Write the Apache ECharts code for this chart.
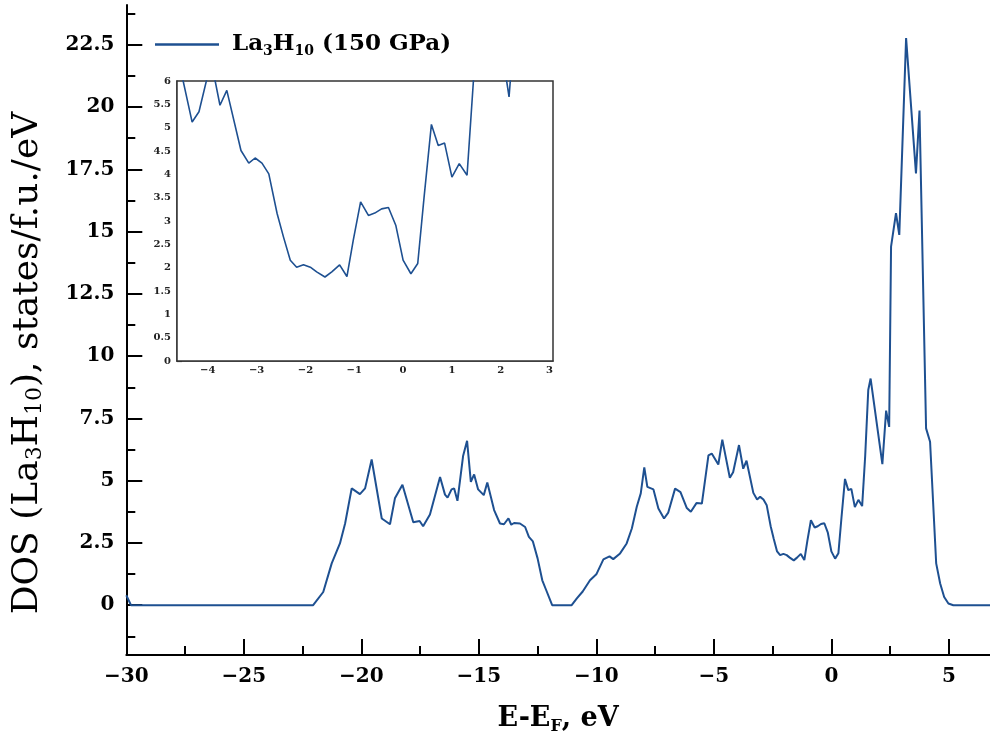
<!DOCTYPE html>
<html><head><meta charset="utf-8">
<script src="https://cdn.jsdelivr.net/npm/echarts@6/dist/echarts.min.js"></script>
<style>html,body{margin:0;padding:0;background:#fff}#c{width:990px;height:755px}</style>
</head><body><div id="c"></div>
<script>
// Energy E-E_F (eV)
const energy = [-30, -29.8, -22.05, -21.62, -21.26, -20.91, -20.69, -20.41, -20.06, -19.84, -19.56, -19.13, -18.78, -18.57, -18.25, -17.79, -17.52, -17.37, -17.08, -16.65, -16.44, -16.33, -16.16, -16.05, -15.91, -15.67, -15.50, -15.34, -15.20, -15.03, -14.79, -14.64, -14.35, -14.10, -13.93, -13.74, -13.62, -13.50, -13.25, -13.03, -12.87, -12.70, -12.50, -12.30, -12.14, -11.88, -11.05, -10.83, -10.58, -10.27, -10.0, -9.70, -9.44, -9.28, -8.99, -8.71, -8.49, -8.28, -8.11, -7.96, -7.83, -7.57, -7.36, -7.12, -6.94, -6.65, -6.42, -6.15, -5.98, -5.74, -5.51, -5.23, -5.09, -4.81, -4.64, -4.32, -4.18, -3.93, -3.75, -3.61, -3.32, -3.16, -3.03, -2.89, -2.75, -2.58, -2.45, -2.31, -2.18, -2.04, -1.90, -1.77, -1.60, -1.46, -1.30, -1.15, -1.02, -0.87, -0.71, -0.58, -0.44, -0.30, -0.15, 0.0, 0.16, 0.30, 0.43, 0.58, 0.72, 0.85, 1.0, 1.15, 1.31, 1.44, 1.57, 1.67, 2.17, 2.33, 2.46, 2.54, 2.75, 2.89, 3.18, 3.60, 3.75, 4.03, 4.20, 4.46, 4.63, 4.80, 4.98, 5.19, 6.75];
// DOS (states/f.u./eV)
const dos = [0.4, 0.0, 0.0, 0.53, 1.68, 2.48, 3.28, 4.69, 4.46, 4.69, 5.85, 3.48, 3.25, 4.29, 4.84, 3.33, 3.38, 3.17, 3.64, 5.15, 4.44, 4.32, 4.65, 4.69, 4.19, 5.99, 6.6, 4.95, 5.25, 4.65, 4.42, 4.93, 3.82, 3.28, 3.25, 3.49, 3.23, 3.3, 3.28, 3.14, 2.74, 2.56, 1.88, 1.0, 0.62, 0.0, 0.0, 0.27, 0.55, 1.0, 1.24, 1.84, 1.96, 1.85, 2.08, 2.48, 3.08, 3.95, 4.49, 5.53, 4.75, 4.65, 3.88, 3.48, 3.72, 4.68, 4.54, 3.9, 3.75, 4.1, 4.08, 6.02, 6.09, 5.65, 6.65, 5.12, 5.34, 6.43, 5.48, 5.8, 4.51, 4.24, 4.35, 4.24, 4.01, 3.16, 2.66, 2.16, 2.01, 2.06, 2.01, 1.91, 1.8, 1.91, 2.06, 1.81, 2.59, 3.41, 3.12, 3.17, 3.26, 3.29, 2.91, 2.16, 1.87, 2.09, 3.51, 5.07, 4.62, 4.67, 3.94, 4.23, 3.98, 6.0, 8.64, 9.1, 5.66, 7.81, 7.16, 14.4, 15.74, 14.87, 22.77, 17.34, 19.86, 7.1, 6.56, 1.68, 0.87, 0.33, 0.07, 0.0, 0.0];

const mainXTicks = [-30, -25, -20, -15, -10, -5, 0, 5];
const mainXMinor = [-27.5, -22.5, -17.5, -12.5, -7.5, -2.5, 2.5];
const mainYTicks = [0, 2.5, 5, 7.5, 10, 12.5, 15, 17.5, 20, 22.5];
const mainYMinor = [-1.25, 1.25, 3.75, 6.25, 8.75, 11.25, 13.75, 16.25, 18.75, 21.25, 23.75];
const insetXTicks = [-4, -3, -2, -1, 0, 1, 2, 3];
const insetXMinor = [-4.5, -3.5, -2.5, -1.5, -0.5, 0.5, 1.5, 2.5];

const seriesData = energy.map((e, i) => [e, dos[i]]);
const SERIF = "'DejaVu Serif', serif";
const LINE = '#1e5091';
const minus = v => (v < 0 ? '\u2212' + (-v) : String(v));

const chart = echarts.init(document.getElementById('c'), null, {renderer: 'canvas'});

// axis used only to draw a set of ticks
function tickAxis(grid, pos, min, max, values, len, color, width) {
  return {gridIndex: grid, position: pos, offset: 0, type: 'value', min: min, max: max,
    axisLine: {show: false, onZero: false},
    axisLabel: {show: false, customValues: values},
    splitLine: {show: false},
    axisTick: {show: true, inside: true, length: len, customValues: values, lineStyle: {color: color, width: width}}};
}

chart.setOption({
  animation: false,
  backgroundColor: '#fff',
  grid: [
    {left: 126.3, right: 0, top: 5, bottom: 100, outerBoundsMode: 'none'},
    {left: 177, top: 81, width: 376, height: 280, show: true, backgroundColor: '#fff',
     borderColor: '#333', borderWidth: 1.5, outerBoundsMode: 'none', z: 5}
  ],
  legend: {
    left: 150, top: 28,
    data: ['La3H10'],
    icon: 'rect', itemWidth: 64, itemHeight: 2.5,
    formatter: () => '{a|La}{s|3}{a|H}{s|10}{a| (150 GPa)}',
    textStyle: {
      fontFamily: SERIF, fontWeight: 'bold', fontSize: 23, color: '#000', padding: [0, 0, 0, 8],
      rich: {
        a: {fontFamily: SERIF, fontWeight: 'bold', fontSize: 23, color: '#000', lineHeight: 28},
        s: {fontFamily: SERIF, fontWeight: 'bold', fontSize: 14, color: '#000', lineHeight: 14, verticalAlign: 'bottom'}
      }
    }
  },
  xAxis: [
    {gridIndex: 0, position: 'bottom', type: 'value', min: -30, max: 6.75,
     axisLine: {show: true, onZero: false, lineStyle: {color: '#000', width: 2}},
     axisTick: {show: false},
     axisLabel: {customValues: mainXTicks, formatter: minus, fontFamily: SERIF, fontWeight: 'bold', fontSize: 20, color: '#000', margin: 12},
     splitLine: {show: false},
     name: '{a|E-E}{s|F}{a|, eV}', nameLocation: 'middle', nameGap: 48,
     nameTextStyle: {rich: {
       a: {fontFamily: SERIF, fontWeight: 'bold', fontSize: 27, color: '#000', lineHeight: 32},
       s: {fontFamily: SERIF, fontWeight: 'bold', fontSize: 16, color: '#000', lineHeight: 14, verticalAlign: 'bottom'}
     }}},
    tickAxis(0, 'bottom', -30, 6.75, mainXTicks, 16, '#000', 2),
    tickAxis(0, 'bottom', -30, 6.75, mainXMinor, 9, '#000', 2),
    {gridIndex: 1, position: 'bottom', type: 'value', min: -4.63, max: 3.07,
     axisLine: {show: true, onZero: false, lineStyle: {color: '#333', width: 1.5}},
     axisTick: {show: false},
     axisLabel: {customValues: insetXTicks, formatter: minus, fontFamily: SERIF, fontWeight: 'bold', fontSize: 10, color: '#222', margin: 4},
     splitLine: {show: false}},
    tickAxis(1, 'bottom', -4.63, 3.07, insetXTicks, 5, '#333', 1.2),
    tickAxis(1, 'bottom', -4.63, 3.07, insetXMinor, 3, '#333', 1)
  ],
  yAxis: [
    {gridIndex: 0, position: 'left', type: 'value', min: -2, max: 24.1,
     axisLine: {show: true, onZero: false, lineStyle: {color: '#000', width: 2}},
     axisTick: {show: false},
     axisLabel: {customValues: mainYTicks, fontFamily: SERIF, fontWeight: 'bold', fontSize: 20, color: '#000', margin: 12},
     splitLine: {show: false},
     name: '{t|DOS (La}{s|3}{t|H}{s|10}{t|), states/f.u./eV}', nameLocation: 'middle', nameGap: 80,
     nameTextStyle: {padding: [0, 66, 0, 0], rich: {
       t: {fontFamily: SERIF, fontSize: 36, color: '#000', lineHeight: 38},
       s: {fontFamily: SERIF, fontSize: 22, color: '#000', lineHeight: 18, verticalAlign: 'bottom'}
     }}},
    tickAxis(0, 'left', -2, 24.1, mainYTicks, 16, '#000', 2),
    tickAxis(0, 'left', -2, 24.1, mainYMinor, 9, '#000', 2),
    {gridIndex: 1, position: 'left', type: 'value', min: 0, max: 6, interval: 0.5,
     axisLine: {show: true, onZero: false, lineStyle: {color: '#333', width: 1.5}},
     axisTick: {show: true, inside: true, length: 5, lineStyle: {color: '#333', width: 1.2}},
     minorTick: {show: true, splitNumber: 2, length: 3, lineStyle: {color: '#333', width: 1}},
     axisLabel: {fontFamily: SERIF, fontWeight: 'bold', fontSize: 10, color: '#222', margin: 6},
     splitLine: {show: false}, minorSplitLine: {show: false}}
  ],
  series: [
    {name: 'La3H10', type: 'line', xAxisIndex: 0, yAxisIndex: 0, data: seriesData,
     showSymbol: false, symbol: 'none', color: LINE, lineStyle: {color: LINE, width: 2}, clip: true, z: 3},
    {name: 'La3H10', type: 'line', xAxisIndex: 3, yAxisIndex: 3, data: seriesData,
     showSymbol: false, symbol: 'none', color: LINE, lineStyle: {color: LINE, width: 1.6}, clip: true, z: 6}
  ]
});
</script></body></html>
